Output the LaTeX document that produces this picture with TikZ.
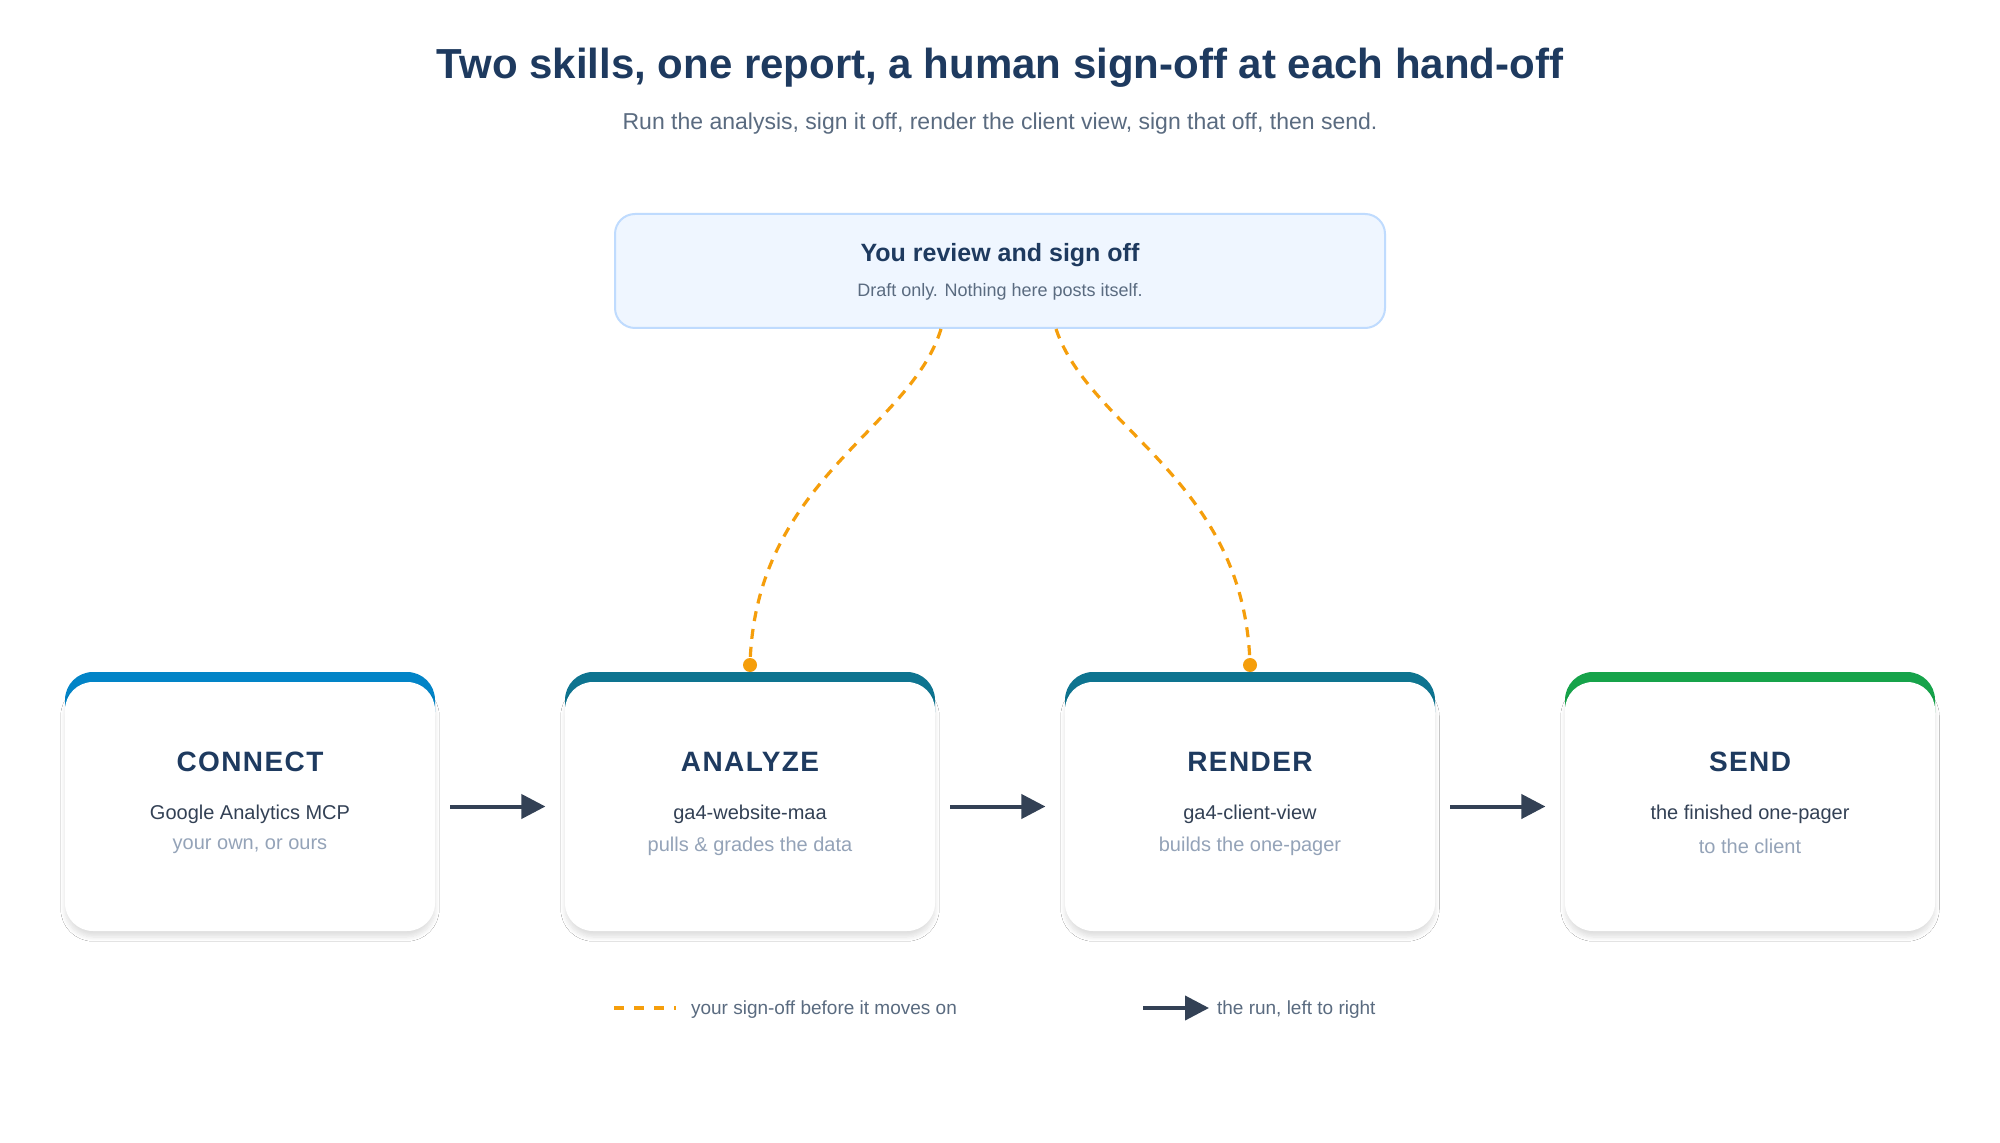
\documentclass[tikz,border=0pt]{standalone}
\usepackage{fontspec}
\setmainfont{Liberation Sans}
\newfontfamily\spaced[LetterSpace=5]{Liberation Sans}
\usetikzlibrary{shadows.blur}
\definecolor{navy}{HTML}{1E3A5F}
\definecolor{subg}{HTML}{5A6B80}
\definecolor{bodyg}{HTML}{334155}
\definecolor{lightg}{HTML}{94A3B8}
\definecolor{cblue}{HTML}{0284C7}
\definecolor{cteal}{HTML}{0E7490}
\definecolor{cgreen}{HTML}{16A34A}
\definecolor{orng}{HTML}{F59E0B}
\definecolor{arr}{HTML}{334155}
\definecolor{rfill}{HTML}{EFF6FF}
\definecolor{rdraw}{HTML}{BFDBFE}
\tikzset{
  card/.style={draw=none,fill=white,rounded corners=14pt,minimum width=185pt,minimum height=124.5pt,
    blur shadow={shadow xshift=0pt,shadow yshift=-3pt,shadow blur steps=8,shadow opacity=12}},
  stripe/.style={fill=#1,rounded corners=14pt},
  head/.style={font=\spaced\bfseries\fontsize{14}{16}\selectfont,text=navy},
  line1/.style={font=\fontsize{10}{12}\selectfont,text=bodyg},
  line2/.style={font=\fontsize{10}{12}\selectfont,text=lightg},
  run/.style={draw=arr,line width=2pt,-{Triangle[length=12pt,width=12pt]}},
  sign/.style={draw=orng,line width=1.6pt,dash pattern=on 5pt off 4pt},
}
\usetikzlibrary{arrows.meta}
\begin{document}
\begin{tikzpicture}[x=0.5pt,y=-0.5pt]
\useasboundingbox (0,0) rectangle (2000,1143);
\fill[white] (0,0) rectangle (2000,1143);
\node[font=\bfseries\fontsize{21}{24}\selectfont,text=navy] (title) at (1000,68) {Two skills, one report, a human sign-off at each hand-off};
\node[font=\fontsize{11.5}{14}\selectfont,text=subg] (sub) at (1000,124) {Run the analysis, sign it off, render the client view, sign that off, then send.};
\node[draw=rdraw,line width=1pt,fill=rfill,rounded corners=10pt,minimum width=385pt,minimum height=57pt] (review) at (1000,271) {};
\node[font=\bfseries\fontsize{12.5}{15}\selectfont,text=navy] (rt) at (1000,255) {You review and sign off};
\node[font=\fontsize{9}{11}\selectfont,text=subg] (rs) at (1000,292) {Draft only. Nothing here posts itself.};
\foreach \n/\x/\c/\h/\a/\b in {connect/250/cblue/CONNECT/Google Analytics MCP/{your own, or ours},
  analyze/750/cteal/ANALYZE/ga4-website-maa/{pulls \& grades the data},
  render/1250/cteal/RENDER/ga4-client-view/builds the one-pager,
  send/1750/cgreen/SEND/the finished one-pager/to the client}{
  \fill[stripe=\c] (\x-185,672) rectangle (\x+185,740);
  \node[card] (\n) at (\x,806.5) {};
  \node[head] (\n h) at (\x,762) {\h};
  \node[line1] (\n a) at (\x,814) {\a};
  \node[line2] (\n b) at (\x,846) {\b};
}
\path (review.south) ++(-59,0) coordinate (s1) ++(115,0) coordinate (s2);
\coordinate (e1) at (750,665);
\coordinate (e2) at (1250,665);
\draw[sign] (s1) .. controls (910,430) and (755,480) .. (e1);
\draw[sign] (s2) .. controls (1090,430) and (1245,480) .. (e2);
\fill[orng] (e1) circle (3.5pt);
\fill[orng] (e2) circle (3.5pt);
\draw[run] (connect.east) ++(15,0) coordinate (a1) -- ++(95,0) coordinate (b1);
\draw[run] (analyze.east) ++(15,0) -- ++(95,0);
\draw[run] (render.east) ++(15,0) -- ++(95,0);
\coordinate (l1) at (614,1008);
\coordinate (l2) at (676,1008);
\draw[sign,dash pattern=on 5pt off 5pt] (l1) -- (l2);
\node[anchor=west,font=\fontsize{9.5}{11}\selectfont,text=subg] (lt1) at (684,1010) {your sign-off before it moves on};
\coordinate (l3) at (1143,1008);
\coordinate (l4) at (1209,1008);
\draw[run] (l3) -- (l4);
\node[anchor=west,font=\fontsize{9.5}{11}\selectfont,text=subg] (lt2) at (1210,1010) {the run, left to right};
\end{tikzpicture}
\end{document}
